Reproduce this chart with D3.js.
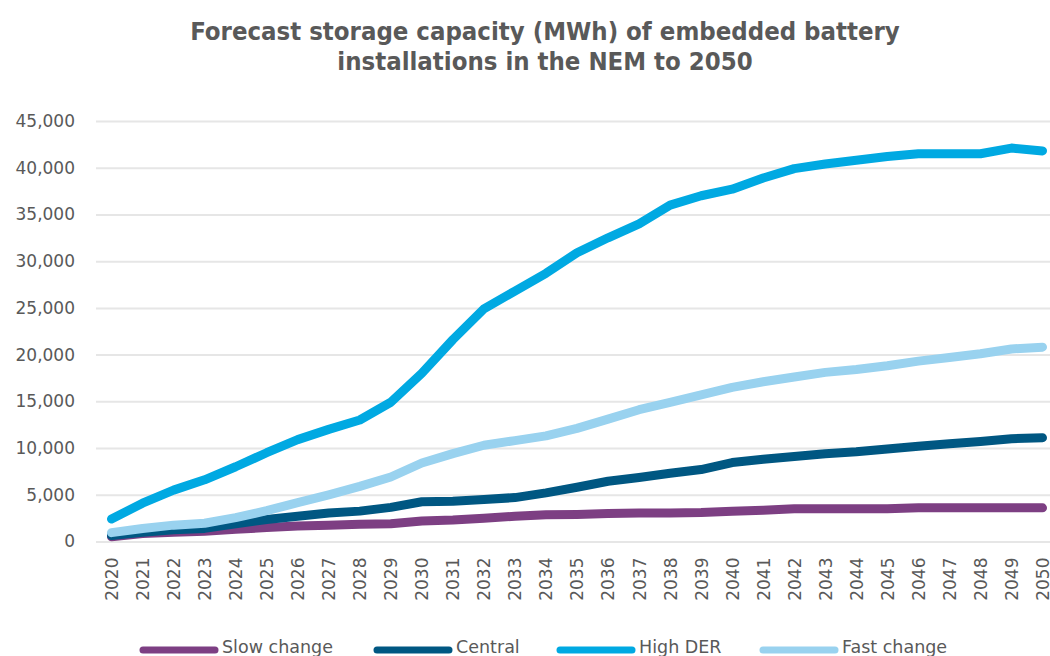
<!DOCTYPE html>
<html>
<head>
<meta charset="utf-8">
<script src="https://cdn.jsdelivr.net/npm/d3@7"></script>
<style>
  html, body { margin: 0; padding: 0; background: #ffffff; }
  svg { display: block; }
</style>
</head>
<body>
<svg id="chart" width="1050" height="656"></svg>
<script>
// Forecast embedded battery storage capacity (MWh), NEM, 2020–2050
const years = d3.range(2020, 2051);

const slowChange = [500, 850, 1000, 1100, 1300, 1500, 1650, 1750, 1850, 1900,
  2200, 2300, 2500, 2700, 2850, 2900, 3000, 3050, 3050, 3100,
  3250, 3350, 3500, 3500, 3500, 3500, 3600, 3600, 3600, 3600, 3600];

const central = [650, 1000, 1250, 1400, 1900, 2350, 2700, 3050, 3250, 3650,
  4250, 4300, 4500, 4700, 5200, 5800, 6450, 6850, 7300, 7700,
  8450, 8800, 9100, 9400, 9600, 9900, 10200, 10450, 10700, 11000, 11100];

const highDER = [2400, 4100, 5500, 6600, 8000, 9500, 10900, 12000, 13000, 14900,
  18000, 21600, 24900, 26800, 28700, 30900, 32500, 34000, 36000, 37000,
  37700, 38900, 39900, 40400, 40800, 41200, 41500, 41500, 41500, 42100, 41800];

const fastChange = [950, 1400, 1750, 1950, 2550, 3300, 4150, 5000, 5900, 6900,
  8400, 9400, 10300, 10800, 11300, 12100, 13100, 14100, 14900, 15700,
  16500, 17100, 17600, 18100, 18400, 18800, 19300, 19700, 20100, 20600, 20800];

const seriesNames = ["Slow change", "Central", "High DER", "Fast change"];
const seriesColors = ["#7d3f83", "#005782", "#00a9e2", "#99d2ef"];
const yTicks = d3.range(0, 45001, 5000);

const series = [slowChange, central, highDER, fastChange].map((vals, i) => ({
  name: seriesNames[i],
  color: seriesColors[i],
  values: vals.map((v, j) => ({ year: years[j], value: v }))
}));

const svg = d3.select("#chart");
const textColor = "#595959";
const font = "'DejaVu Sans', Verdana, sans-serif";

const plotLeft = 96, plotRight = 1050;
const x = d3.scalePoint().domain(years).range([111.5, 1042.5]);
const y = d3.scaleLinear().domain([0, 45000]).range([541.5, 121]);

// Title
const title = svg.append("text")
  .attr("x", 545)
  .attr("text-anchor", "middle")
  .attr("fill", textColor)
  .style("font-family", "'DejaVu Sans Condensed', 'DejaVu Sans', sans-serif")
  .style("font-weight", "bold")
  .style("font-size", "25.5px");
title.append("tspan").attr("x", 545).attr("y", 40).text("Forecast storage capacity (MWh) of embedded battery");
title.append("tspan").attr("x", 545).attr("y", 70).text("installations in the NEM to 2050");

// Horizontal gridlines
const grid = svg.append("g")
  .attr("transform", `translate(${plotLeft},0)`)
  .call(d3.axisRight(y).tickValues(yTicks).tickSize(plotRight - plotLeft).tickFormat(""));
grid.select(".domain").remove();
grid.selectAll(".tick line").attr("stroke", "#e6e6e6").attr("stroke-width", 2);

// Y axis labels
const yAxis = svg.append("g")
  .attr("transform", `translate(${plotLeft},0)`)
  .call(d3.axisLeft(y).tickValues(yTicks).tickSize(0).tickPadding(21)
    .tickFormat(d3.format(",")));
yAxis.select(".domain").remove();
yAxis.selectAll("text")
  .attr("fill", textColor)
  .style("font-family", font)
  .style("font-size", "17px");

// X axis labels (rotated)
const xAxis = svg.append("g")
  .attr("transform", `translate(0,${y(0)})`)
  .call(d3.axisBottom(x).tickSize(0).tickPadding(0));
xAxis.select(".domain").remove();
xAxis.selectAll("text")
  .attr("fill", textColor)
  .style("font-family", font)
  .style("font-size", "17px")
  .attr("text-anchor", "end")
  .attr("transform", "rotate(-90)")
  .attr("x", -16)
  .attr("y", 0)
  .attr("dy", "0.35em");

// Series lines
const line = d3.line()
  .x(d => x(d.year))
  .y(d => y(d.value));

svg.append("g")
  .selectAll("path")
  .data(series)
  .join("path")
  .attr("d", d => line(d.values))
  .attr("fill", "none")
  .attr("stroke", d => d.color)
  .attr("stroke-width", 9)
  .attr("stroke-linecap", "round")
  .attr("stroke-linejoin", "round");

// Legend
const legendX = [143, 377, 560, 763];
const legend = svg.append("g")
  .selectAll("g")
  .data(series)
  .join("g")
  .attr("transform", (d, i) => `translate(${legendX[i]},650)`);
legend.append("line")
  .attr("x1", 0).attr("x2", 72)
  .attr("y1", 0).attr("y2", 0)
  .attr("stroke", d => d.color)
  .attr("stroke-width", 7)
  .attr("stroke-linecap", "round");
legend.append("text")
  .attr("x", 79)
  .attr("y", 3)
  .attr("fill", textColor)
  .style("font-family", font)
  .style("font-size", "17.5px")
  .text(d => d.name);
</script>
</body>
</html>
